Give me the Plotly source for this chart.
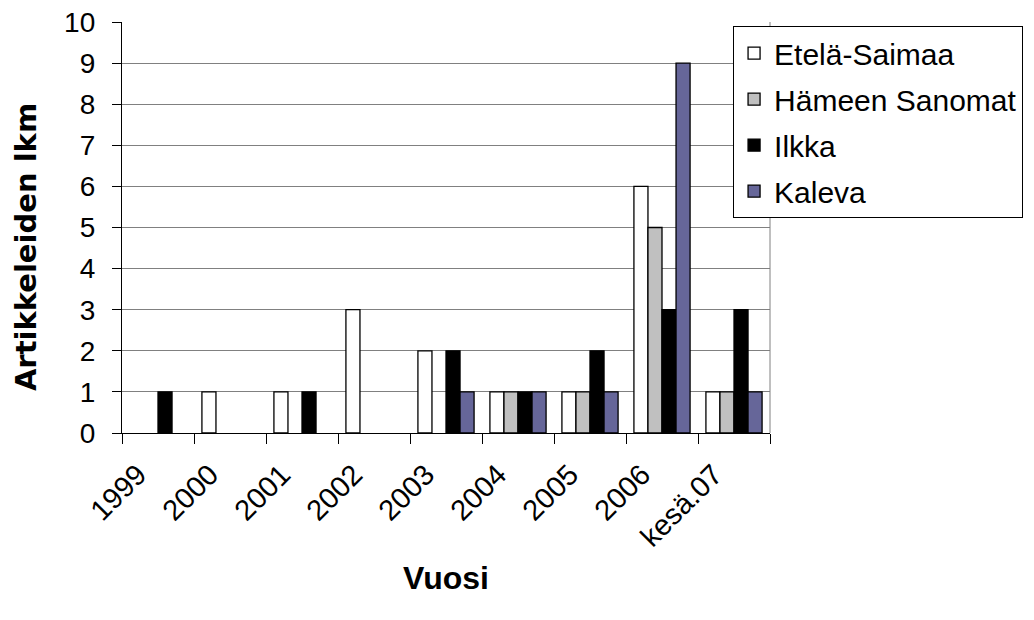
import plotly.graph_objects as go

categories = ["1999", "2000", "2001", "2002", "2003", "2004", "2005", "2006", "kesä.07"]
etela_saimaa = [0, 1, 1, 3, 2, 1, 1, 6, 1]
hameen_sanomat = [0, 0, 0, 0, 0, 1, 1, 5, 1]
ilkka = [1, 0, 1, 0, 2, 1, 2, 3, 3]
kaleva = [0, 0, 0, 0, 1, 1, 1, 9, 1]

series = [
    ("Etelä-Saimaa", etela_saimaa, "#FFFFFF"),
    ("Hämeen Sanomat", hameen_sanomat, "#C0C0C0"),
    ("Ilkka", ilkka, "#000000"),
    ("Kaleva", kaleva, "#666699"),
]

FONT = "Liberation Sans, Arial, sans-serif"

fig = go.Figure()
for i, (name, vals, col) in enumerate(series):
    fig.add_trace(go.Bar(
        x=categories, y=[v if v else None for v in vals], name=name,
        marker=dict(color=col, line=dict(color="#000000", width=1.3)),
        legendgroup=f"g{i}",
    ))

# page body has an 8px default margin; figure sized to fill the remaining window
fig.update_layout(
    width=1026, height=612,
    paper_bgcolor="white", plot_bgcolor="white",
    margin=dict(l=114, r=264, t=14, b=187, autoexpand=False),
    barmode="group", bargap=0.22, bargroupgap=0,
    font=dict(family=FONT, color="black", size=28),
    showlegend=True,
    legend=dict(
        x=0.943, y=0.99, xanchor="left", yanchor="top",
        bgcolor="white", bordercolor="black", borderwidth=1,
        font=dict(family=FONT, size=30, color="black"),
        tracegroupgap=4, traceorder="grouped", itemwidth=30,
    ),
    xaxis=dict(
        type="category", tickangle=-45, tickson="boundaries",
        ticks="outside", ticklen=10, tickcolor="black",
        ticklabelstandoff=12, ticklabelshift=-20,
        showline=True, linecolor="black", linewidth=1.3,
        showgrid=False, tickfont=dict(family=FONT, size=29),
        title=dict(text="<b>Vuosi</b>", font=dict(family=FONT, size=32), standoff=14),
    ),
    yaxis=dict(
        range=[0, 10], dtick=1, ticks="outside", ticklen=9, tickcolor="black",
        ticklabelstandoff=11, ticklabeloverflow="allow",
        showline=True, linecolor="black", linewidth=1.3,
        showgrid=True, gridcolor="#808080", gridwidth=1,
        zeroline=False, tickfont=dict(family=FONT, size=28),
    ),
    annotations=[dict(
        text="<b>Artikkeleiden lkm</b>", textangle=-90,
        xref="paper", yref="paper", x=-0.148, y=0.4526,
        xanchor="center", yanchor="middle", showarrow=False,
        font=dict(family="DejaVu Sans, sans-serif", size=29, color="black"),
    )],
    shapes=[dict(type="line", xref="paper", yref="paper", x0=1, x1=1, y0=0, y1=1,
                 line=dict(color="#808080", width=1))],
)

fig.write_html("out.html")
